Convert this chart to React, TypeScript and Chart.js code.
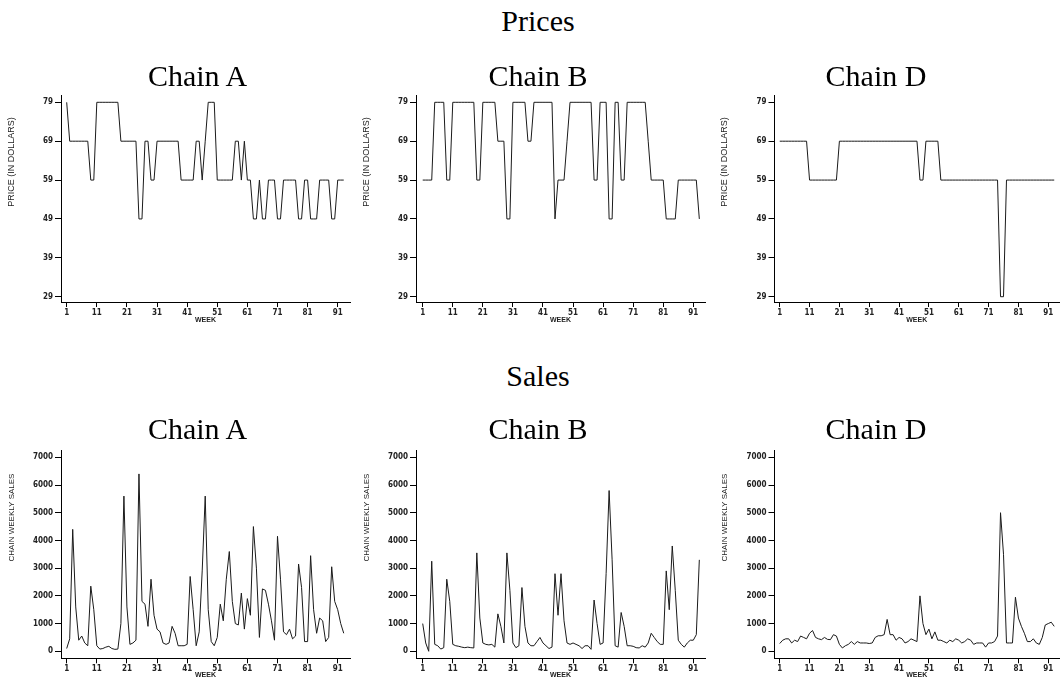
import React, { useEffect, useRef } from "react";
import { Chart, registerables } from "chart.js";

Chart.register(...registerables);

// ---------- data ----------
const weeks = [
  1, 2, 3, 4, 5, 6, 7, 8, 9, 10, 11, 12, 13, 14, 15, 16, 17, 18, 19, 20,
  21, 22, 23, 24, 25, 26, 27, 28, 29, 30, 31, 32, 33, 34, 35, 36, 37, 38, 39, 40,
  41, 42, 43, 44, 45, 46, 47, 48, 49, 50, 51, 52, 53, 54, 55, 56, 57, 58, 59, 60,
  61, 62, 63, 64, 65, 66, 67, 68, 69, 70, 71, 72, 73, 74, 75, 76, 77, 78, 79, 80,
  81, 82, 83, 84, 85, 86, 87, 88, 89, 90, 91, 92, 93,
];

const weekTicks = [1, 11, 21, 31, 41, 51, 61, 71, 81, 91];
const priceTicks = [29, 39, 49, 59, 69, 79];
const salesTicks = [0, 1000, 2000, 3000, 4000, 5000, 6000, 7000];

const chainNames = ["Chain A", "Chain B", "Chain D"];
const sectionTitles = ["Prices", "Sales"];
const yTitles = ["PRICE (IN DOLLARS)", "CHAIN WEEKLY SALES"];
const xTitle = "WEEK";

const priceA = [
  79, 69, 69, 69, 69, 69, 69, 69, 59, 59,
  79, 79, 79, 79, 79, 79, 79, 79, 69, 69,
  69, 69, 69, 69, 49, 49, 69, 69, 59, 59,
  69, 69, 69, 69, 69, 69, 69, 69, 59, 59,
  59, 59, 59, 69, 69, 59, 69, 79, 79, 79,
  59, 59, 59, 59, 59, 59, 69, 69, 59, 69,
  59, 59, 49, 49, 59, 49, 49, 59, 59, 59,
  49, 49, 59, 59, 59, 59, 59, 49, 49, 59,
  59, 49, 49, 49, 59, 59, 59, 59, 49, 49,
  59, 59, 59,
];

const priceB = [
  59, 59, 59, 59, 79, 79, 79, 79, 59, 59,
  79, 79, 79, 79, 79, 79, 79, 79, 59, 59,
  79, 79, 79, 79, 79, 69, 69, 69, 49, 49,
  79, 79, 79, 79, 79, 69, 69, 79, 79, 79,
  79, 79, 79, 79, 49, 59, 59, 59, 69, 79,
  79, 79, 79, 79, 79, 79, 79, 59, 59, 79,
  79, 79, 49, 49, 79, 79, 59, 59, 79, 79,
  79, 79, 79, 79, 79, 69, 59, 59, 59, 59,
  59, 49, 49, 49, 49, 59, 59, 59, 59, 59,
  59, 59, 49,
];

const priceD = [
  69, 69, 69, 69, 69, 69, 69, 69, 69, 69,
  59, 59, 59, 59, 59, 59, 59, 59, 59, 59,
  69, 69, 69, 69, 69, 69, 69, 69, 69, 69,
  69, 69, 69, 69, 69, 69, 69, 69, 69, 69,
  69, 69, 69, 69, 69, 69, 69, 59, 59, 69,
  69, 69, 69, 69, 59, 59, 59, 59, 59, 59,
  59, 59, 59, 59, 59, 59, 59, 59, 59, 59,
  59, 59, 59, 59, 29, 29, 59, 59, 59, 59,
  59, 59, 59, 59, 59, 59, 59, 59, 59, 59,
  59, 59, 59,
];

const salesA = [
  100, 450, 4400, 1600, 400, 550, 300, 200, 2350, 1500,
  200, 80, 100, 150, 180, 100, 70, 80, 1000, 5600,
  1600, 250, 300, 400, 6400, 1800, 1700, 900, 2600, 1300,
  800, 700, 300, 250, 300, 900, 650, 200, 200, 200,
  250, 2700, 1500, 200, 700, 2900, 5600, 1500, 350, 200,
  500, 1700, 1100, 2600, 3600, 1800, 1000, 950, 2100, 800,
  1900, 1300, 4500, 3000, 500, 2250, 2200, 1700, 1100, 400,
  4150, 2600, 700, 600, 800, 450, 550, 3150, 2300, 350,
  350, 3450, 1500, 650, 1200, 1100, 350, 500, 3050, 1800,
  1500, 1000, 650,
];

const salesB = [
  1000, 300, 0, 3250, 250, 200, 80, 130, 2600, 1800,
  250, 200, 180, 150, 130, 150, 130, 120, 3550, 1200,
  300, 250, 230, 250, 150, 1350, 900, 300, 3550, 2200,
  300, 130, 200, 2300, 900, 300, 200, 200, 350, 500,
  300, 200, 100, 150, 2800, 1300, 2800, 1100, 300, 250,
  300, 250, 200, 100, 200, 200, 70, 1850, 1000, 250,
  300, 2800, 5800, 3300, 200, 150, 1400, 900, 200, 200,
  180, 130, 120, 200, 150, 300, 650, 500, 350, 250,
  250, 2900, 1500, 3800, 2200, 400, 250, 150, 300, 400,
  400, 600, 3300,
];

const salesD = [
  280, 400, 450, 450, 300, 400, 350, 550, 500, 450,
  650, 750, 500, 450, 420, 500, 430, 420, 600, 550,
  250, 120, 200, 250, 350, 250, 350, 300, 300, 300,
  280, 300, 500, 560, 560, 600, 1150, 600, 600, 400,
  500, 450, 300, 350, 450, 400, 350, 2000, 1000, 600,
  800, 450, 700, 400, 400, 350, 300, 400, 350, 450,
  400, 300, 350, 450, 400, 250, 300, 300, 300, 150,
  300, 300, 350, 550, 5000, 3500, 300, 300, 300, 1950,
  1200, 900, 650, 350, 350, 450, 300, 250, 500, 950,
  1000, 1050, 900,
];

// ---------- layout ----------
type Col = { cx: number; cw: number; l: number; r: number; xMin: number; xMax: number; ytx: number; titleCx: number };
type Row = {
  cy: number; ch: number; t: number; b: number; yMin: number; yMax: number;
  ticks: number[]; yTitle: string; yty: number; ytFont: string; weekY: number;
  titleBase: number; sectionBase: number; sectionTitle: string;
};

const cols: Col[] = [
  { cx: 0, cw: 355, l: 61, r: 350, xMin: -0.89, xMax: 95.08, ytx: 12, titleCx: 197.5 },
  { cx: 355, cw: 355, l: 416, r: 705, xMin: -1.23, xMax: 94.89, ytx: 367, titleCx: 538 },
  { cx: 710, cw: 351, l: 774.5, r: 1059, xMin: -0.75, xMax: 94.6, ytx: 724.5, titleCx: 876 },
];

const rows: Row[] = [
  {
    cy: 85, ch: 245, t: 95, b: 302, yMin: 27.64, yMax: 80.88, ticks: priceTicks,
    yTitle: yTitles[0], yty: 162, ytFont: "9px 'Liberation Sans', Arial, sans-serif", weekY: 320,
    titleBase: 85.7, sectionBase: 30.7, sectionTitle: sectionTitles[0],
  },
  {
    cy: 440, ch: 240, t: 450, b: 658.3, yMin: -253, yMax: 7263, ticks: salesTicks,
    yTitle: yTitles[1], yty: 517.5, ytFont: "8px 'Liberation Sans', Arial, sans-serif", weekY: 675,
    titleBase: 439, sectionBase: 386, sectionTitle: sectionTitles[1],
  },
];

const seriesGrid = [
  [priceA, priceB, priceD],
  [salesA, salesB, salesD],
];

const tickFontFamily = "'Liberation Sans Narrow', 'DejaVu Sans Condensed', 'Liberation Sans', Arial, sans-serif";
const weekFontSize = 7;

function Panel({ row, col, values }: { row: Row; col: Col; values: number[] }) {
  const ref = useRef<HTMLCanvasElement | null>(null);

  useEffect(() => {
    if (!ref.current) return;
    const yTitlePlugin = {
      id: "yTitleFree",
      afterDraw(chart: any) {
        const ctx = chart.ctx as CanvasRenderingContext2D;
        ctx.save();
        ctx.translate(col.ytx - col.cx, row.yty - row.cy);
        ctx.rotate(-Math.PI / 2);
        ctx.font = row.ytFont;
        ctx.fillStyle = "#222";
        ctx.textAlign = "center";
        ctx.textBaseline = "middle";
        ctx.fillText(row.yTitle, 0, 0);
        ctx.restore();
      },
    };
    const xHeight = row.cy + row.ch - row.b;
    const weekPad = Math.max(0, row.cy + row.ch - row.weekY - (weekFontSize * 1.2) / 2);
    const chart = new Chart(ref.current, {
      type: "line",
      data: {
        datasets: [
          {
            data: weeks.map((w, i) => ({ x: w, y: values[i] })),
            borderColor: "#1a1a1a",
            borderWidth: 1,
            pointRadius: 0,
            tension: 0,
            fill: false,
          },
        ],
      },
      options: {
        animation: false,
        responsive: false,
        events: [],
        layout: { padding: { left: 0, right: col.cx + col.cw - col.r, top: row.t - row.cy, bottom: 0 } },
        plugins: { legend: { display: false }, tooltip: { enabled: false }, title: { display: false } },
        scales: {
          x: {
            type: "linear",
            min: col.xMin,
            max: col.xMax,
            afterBuildTicks: (s: any) => {
              s.ticks = weekTicks.map((v) => ({ value: v }));
            },
            afterFit: (s: any) => {
              s.height = xHeight;
            },
            grid: { display: true, drawOnChartArea: false, drawTicks: true, tickLength: 5, color: "#000", lineWidth: 1 },
            border: { display: true, color: "#000", width: 1 },
            ticks: {
              autoSkip: false,
              maxRotation: 0,
              padding: 1,
              color: "#222",
              font: { family: tickFontFamily, size: 8, weight: "bold" },
              callback: (v: any) => String(v),
            },
            title: {
              display: true,
              text: xTitle,
              color: "#222",
              font: { family: "'Liberation Sans', Arial, sans-serif", size: weekFontSize, weight: "bold" },
              padding: { top: 0, bottom: weekPad },
            },
          },
          y: {
            type: "linear",
            min: row.yMin,
            max: row.yMax,
            afterBuildTicks: (s: any) => {
              s.ticks = row.ticks.map((v) => ({ value: v }));
            },
            afterFit: (s: any) => {
              s.width = col.l - col.cx;
            },
            grid: { display: true, drawOnChartArea: false, drawTicks: true, tickLength: 6, color: "#000", lineWidth: 1 },
            border: { display: true, color: "#000", width: 1 },
            ticks: {
              padding: 2,
              color: "#222",
              font: { family: tickFontFamily, size: 8, weight: "bold" },
              callback: (v: any) => String(v),
            },
          },
        },
      },
      plugins: [yTitlePlugin],
    } as any);
    return () => chart.destroy();
  }, [row, col, values]);

  return (
    <canvas
      ref={ref}
      width={col.cw}
      height={row.ch}
      style={{ position: "absolute", left: col.cx, top: row.cy, width: col.cw, height: row.ch }}
    />
  );
}

const serifFont = "'Liberation Serif', 'Times New Roman', serif";
const titleSize = 30;
const baselineOffset = 25.1; // baseline position inside a 30px line box

export default function App() {
  useEffect(() => {
    document.body.style.overflow = "hidden";
  }, []);

  const textStyle = (cx: number, base: number): React.CSSProperties => ({
    position: "absolute",
    left: cx - 150,
    width: 300,
    top: base - baselineOffset,
    textAlign: "center",
    fontFamily: serifFont,
    fontSize: titleSize,
    lineHeight: `${titleSize}px`,
    color: "#000",
    whiteSpace: "nowrap",
  });

  return (
    <div style={{ position: "absolute", left: 0, top: 0, width: 1061, height: 680, background: "#fff", overflow: "hidden" }}>
      {rows.map((row, ri) =>
        cols.map((col, ci) => <Panel key={`p${ri}${ci}`} row={row} col={col} values={seriesGrid[ri][ci]} />)
      )}
      {rows.map((row, ri) => (
        <div key={`s${ri}`} style={textStyle(538, row.sectionBase)}>
          {row.sectionTitle}
        </div>
      ))}
      {rows.map((row, ri) =>
        cols.map((col, ci) => (
          <div key={`t${ri}${ci}`} style={textStyle(col.titleCx, row.titleBase)}>
            {chainNames[ci]}
          </div>
        ))
      )}
    </div>
  );
}
